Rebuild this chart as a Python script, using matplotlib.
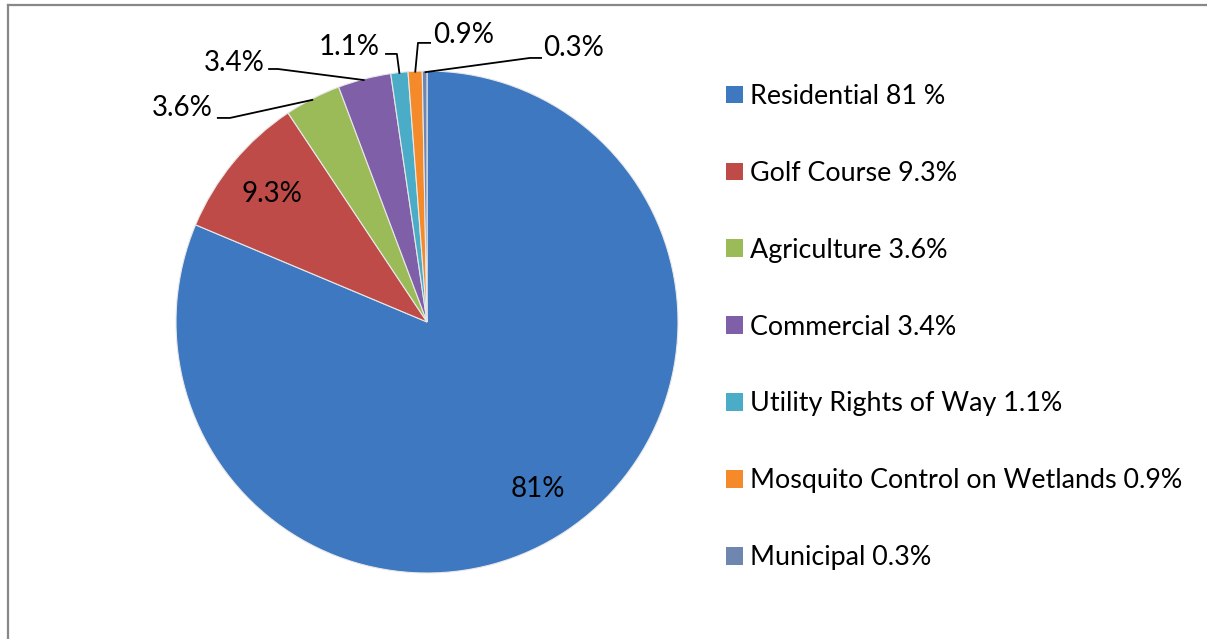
import numpy as np
import matplotlib
matplotlib.use("Agg")
import matplotlib.pyplot as plt
from matplotlib.patches import Rectangle
from matplotlib.lines import Line2D

plt.rcParams['font.family'] = ['Lato', 'DejaVu Sans']

# data
categories = ["Residential", "Golf Course", "Agriculture", "Commercial",
              "Utility Rights of Way", "Mosquito Control on Wetlands", "Municipal"]
values = [81, 9.3, 3.6, 3.4, 1.1, 0.9, 0.3]
slice_labels = ["81%", "9.3%", "3.6%", "3.4%", "1.1%", "0.9%", "0.3%"]
legend_labels = ["Residential 81 %", "Golf Course 9.3%", "Agriculture 3.6%",
                 "Commercial 3.4%", "Utility Rights of Way 1.1%",
                 "Mosquito Control on Wetlands 0.9%", "Municipal 0.3%"]
colors = ["#3d78c0", "#be4b48", "#9bbb59", "#7f5fa8", "#4aacc6", "#f58a2b", "#6f86b0"]

# layout: labels outside the pie (text pos, elbow, line end), in pie radius units
outside = {
    2: dict(text=(-0.852, 0.853), elbow=(-0.785, 0.813), end=(-0.837, 0.813), ha="right"),
    3: dict(text=(-0.648, 1.032), elbow=(-0.594, 1.008), end=(-0.633, 1.008), ha="right"),
    4: dict(text=(-0.188, 1.096), elbow=(-0.120, 1.068), end=(-0.167, 1.068), ha="right"),
    5: dict(text=(0.024, 1.143), elbow=(-0.036, 1.112), end=(0.016, 1.112), ha="left"),
    6: dict(text=(0.462, 1.092), elbow=(0.410, 1.052), end=(0.458, 1.052), ha="left"),
}

W, H = 1207, 639
cx, cy, R = 427, 322, 251

fig = plt.figure(figsize=(W / 100, H / 100), dpi=100)
ax = fig.add_axes([0, 0, 1, 1])
ax.set_axis_off()

wedges, _ = ax.pie(values, colors=colors, startangle=90, counterclock=False,
                   radius=1, wedgeprops=dict(edgecolor="#e8e8e8", linewidth=0.8))
ax.set_xlim(-cx / R, (W - cx) / R)
ax.set_ylim(-(H - cy) / R, cy / R)
ax.set_aspect("auto")

for i, w in enumerate(wedges):
    mid = np.deg2rad((w.theta1 + w.theta2) / 2)
    if i in outside:
        o = outside[i]
        ax.plot([np.cos(mid) * 0.995, o["elbow"][0], o["end"][0]],
                [np.sin(mid) * 0.995, o["elbow"][1], o["end"][1]],
                color="black", lw=1.3, solid_capstyle="butt")
        ax.text(o["text"][0], o["text"][1], slice_labels[i], ha=o["ha"], va="center",
                fontsize=20)
    else:
        ax.text(np.cos(mid) * 0.8, np.sin(mid) * 0.8, slice_labels[i],
                ha="center", va="center", fontsize=20)

handles = [Rectangle((0, 0), 1, 1, facecolor=c, edgecolor="none") for c in colors]
ax.legend(handles, legend_labels, loc="upper left", bbox_to_anchor=(726 / W, 1 - 84 / H),
          bbox_transform=fig.transFigure, frameon=False, fontsize=19.4,
          handlelength=0.63, handleheight=0.63, handletextpad=0.26,
          labelspacing=1.925, borderpad=0, borderaxespad=0)

# chart border (only top and left visible)
fig.add_artist(Line2D([8 / W, 1], [1 - 5 / H, 1 - 5 / H], transform=fig.transFigure,
                      color="#888888", lw=1.6))
fig.add_artist(Line2D([8 / W, 8 / W], [0, 1 - 5 / H], transform=fig.transFigure,
                      color="#888888", lw=1.6))

fig.savefig("out.png", dpi=100)
